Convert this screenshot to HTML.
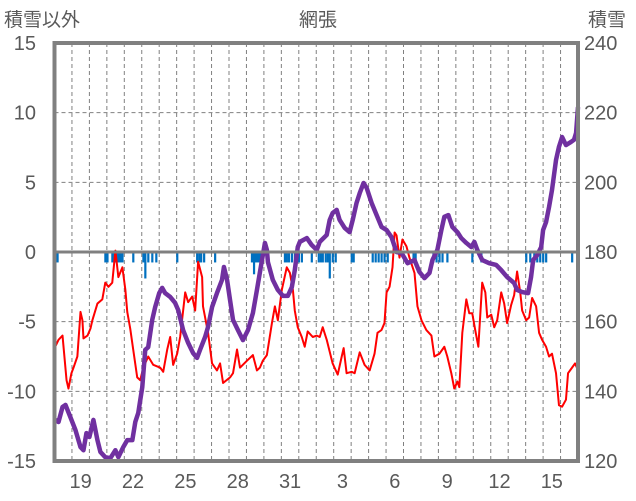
<!DOCTYPE html>
<html><head><meta charset="utf-8"><style>
html,body{margin:0;padding:0;background:#fff;}
svg{display:block;font-family:"Liberation Sans","Noto Sans CJK JP",sans-serif;}
</style></head><body>
<svg id="chart" width="636" height="501">
<g id="grid"></g><g id="bars"></g><g id="lines"></g><g id="frame"></g><g id="labels"></g>
</svg>
<script>
const dayLabels = ["19","22","25","28","31","3","6","9","12","15"];
const dayLabelIndex = [1,4,7,10,13,16,19,22,25,28];
const leftTicks = [15,10,5,0,-5,-10,-15];
const rightTicks = [240,220,200,180,160,140,120];
const redDays = [0,0.23,0.46,0.51,0.69,0.8,0.97,1.09,1.31,1.49,1.6,1.66,1.89,2.06,2.17,2.46,2.74,2.91,3.09,3.31,3.49,3.66,3.89,4.06,4.17,4.34,4.51,4.74,4.91,5.09,5.37,5.66,6.06,6.23,6.46,6.63,6.8,7.03,7.2,7.49,7.66,7.89,8.06,8.23,8.46,8.51,8.8,9.03,9.31,9.49,9.66,10.06,10.23,10.46,10.63,11.03,11.37,11.6,11.77,11.94,12.17,12.46,12.63,12.8,13.03,13.31,13.49,13.66,13.77,13.94,14.17,14.34,14.51,14.8,15.03,15.2,15.37,15.6,15.94,16.23,16.46,16.57,16.74,17.03,17.2,17.49,17.77,18.06,18.34,18.51,18.74,18.91,19.03,19.2,19.37,19.49,19.6,19.77,19.94,20.17,20.34,20.63,20.8,21.03,21.31,21.6,21.77,22.06,22.34,22.51,22.74,22.91,23.09,23.2,23.37,23.6,23.77,23.94,24.11,24.29,24.51,24.69,24.8,25.03,25.2,25.37,25.6,25.77,25.94,26.17,26.34,26.51,26.69,26.8,27.03,27.2,27.37,27.6,27.77,27.94,28.17,28.34,28.51,28.74,28.91,29.09,29.31,29.43,29.66,29.83,29.94];
const redValues = [-6.9,-6.3,-6.0,-6.7,-9.2,-9.8,-8.7,-8.3,-7.5,-4.3,-4.9,-6.2,-6.0,-5.5,-4.9,-3.7,-3.4,-2.2,-2.5,-2.2,0.1,-1.8,-1.1,-2.7,-4.3,-5.5,-7.0,-9.0,-9.2,-8.3,-7.5,-8.1,-8.3,-8.6,-7.0,-6.1,-8.1,-7.3,-6.1,-2.9,-3.6,-3.2,-4.2,-0.7,-1.8,-3.9,-5.8,-8.0,-8.5,-8.0,-9.4,-9.0,-8.7,-7.0,-8.3,-7.8,-7.4,-8.5,-8.3,-7.8,-7.4,-5.1,-3.9,-4.9,-2.7,-1.1,-1.5,-2.7,-4.2,-5.4,-6.1,-6.8,-5.7,-6.1,-6.0,-6.1,-5.4,-6.3,-8.0,-8.8,-7.5,-6.9,-8.7,-8.6,-8.7,-7.2,-8.1,-8.5,-7.3,-5.8,-5.6,-5.1,-2.9,-2.5,-1.1,1.4,1.2,-0.4,0.9,0.4,-0.4,-1.5,-3.9,-4.9,-5.6,-6.0,-7.5,-7.3,-6.8,-7.5,-8.7,-9.8,-9.3,-9.7,-5.8,-3.4,-4.4,-4.4,-5.6,-6.8,-2.2,-2.9,-4.7,-4.5,-5.4,-4.9,-2.9,-3.7,-5.1,-3.8,-3.1,-1.4,-2.9,-4.2,-4.9,-4.7,-3.3,-3.9,-5.8,-6.3,-6.8,-7.5,-7.3,-8.7,-11.0,-11.1,-10.6,-8.7,-8.3,-8.0,-8.3];
const snowDays = [0.06,0.23,0.46,0.63,0.91,1.2,1.49,1.66,1.83,2.0,2.23,2.46,2.63,2.91,3.2,3.49,3.66,3.94,4.17,4.46,4.63,4.8,5.03,5.2,5.37,5.6,5.77,6.0,6.17,6.34,6.63,6.91,7.09,7.37,7.66,7.94,8.17,8.34,8.63,8.8,9.03,9.31,9.6,9.71,9.89,10.06,10.23,10.51,10.8,11.09,11.37,11.6,11.89,12.06,12.17,12.23,12.51,12.8,13.09,13.37,13.6,13.77,13.94,14.06,14.46,14.74,15.03,15.2,15.6,15.77,15.94,16.17,16.34,16.63,16.91,17.09,17.31,17.49,17.71,17.89,18.17,18.46,18.74,19.03,19.31,19.6,19.89,20.23,20.63,20.91,21.2,21.49,21.66,21.94,22.17,22.34,22.57,22.8,23.09,23.31,23.6,23.89,24.06,24.23,24.51,24.91,25.31,25.6,25.94,26.34,26.51,26.8,27.14,27.31,27.43,27.66,27.89,28.0,28.17,28.34,28.51,28.74,28.91,29.09,29.31,29.6,29.77,29.89,30.0];
const snowValues = [131.8,131.2,135.5,136.1,132.6,128.9,124.0,123.1,128.0,126.9,131.8,126.0,122.6,121.1,120.8,123.1,121.1,124.0,126.0,126.0,131.2,133.8,141.2,151.9,152.7,160.5,164.2,168.2,169.7,168.2,167.1,165.4,163.3,157.6,153.9,151.0,149.6,151.9,155.6,158.5,164.2,168.2,172.0,175.7,172.0,166.2,160.5,157.6,154.7,157.6,162.5,169.1,177.7,182.6,180.6,177.1,172.0,169.1,167.4,167.4,169.9,174.8,181.4,182.9,184.0,182.0,180.6,182.9,184.9,189.2,191.2,192.1,189.2,186.9,185.7,189.2,194.1,196.9,199.8,198.4,194.1,190.6,187.2,186.3,184.3,180.0,179.7,176.8,177.7,174.3,172.5,174.0,177.7,180.6,186.3,190.1,190.6,187.2,185.7,184.0,182.6,181.4,182.9,180.6,177.7,176.8,176.3,174.8,172.8,171.1,169.1,168.5,168.2,172.8,177.7,179.1,181.4,186.3,188.6,192.9,197.8,206.4,210.2,213.0,210.7,211.6,212.2,214.2,221.6];
const barDays = [0.17,2.91,3.03,3.31,3.43,3.54,3.66,3.77,3.89,4.51,5.09,5.2,5.37,5.6,5.83,7.03,8.17,8.29,8.4,8.57,9.2,11.31,11.43,11.54,11.66,11.77,11.89,13.2,13.31,13.43,13.6,13.77,13.89,14.0,14.17,14.74,15.14,15.26,15.37,15.54,15.66,15.77,15.94,16.11,17.03,17.14,18.23,18.4,18.57,18.74,18.91,19.09,20.57,20.69,21.71,21.89,22.06,22.23,22.51,23.94,24.46,27.03,27.26,27.49,27.66,27.83,28.0,28.17,29.66];
const barValues = [-0.75,-0.75,-0.75,-0.75,-0.75,-0.75,-0.75,-0.75,-0.75,-0.75,-0.75,-1.9,-0.75,-0.75,-0.75,-0.75,-0.75,-0.75,-0.75,-0.75,-0.75,-0.75,-1.6,-0.75,-0.75,-0.75,-0.75,-0.75,-0.75,-0.75,-0.75,-0.75,-0.75,-0.75,-0.75,-0.75,-0.75,-0.75,-0.75,-0.75,-0.75,-1.9,-0.75,-0.75,-0.75,-0.75,-0.75,-0.75,-0.75,-0.75,-0.75,-0.75,-0.75,-0.75,-0.75,-0.75,-0.75,-0.75,-0.75,-0.75,-0.75,-0.75,-0.75,-0.75,-0.75,-0.75,-0.75,-0.75,-0.75];

const NS="http://www.w3.org/2000/svg";
const L=54.5,R=578,T=43,B=461,NDAYS=30;
const xS=d=>L+d*(R-L)/NDAYS;
const yL=v=>T+(15-v)*(B-T)/30;
const yR=v=>T+(240-v)*(B-T)/120;
function mk(tag,parent,attrs){const e=document.createElementNS(NS,tag);for(const k in attrs)e.setAttribute(k,attrs[k]);parent.appendChild(e);return e;}
const grid=document.getElementById('grid'),bars=document.getElementById('bars'),lines=document.getElementById('lines'),frame=document.getElementById('frame'),labels=document.getElementById('labels');
for(let d=1;d<NDAYS;d++){const g=mk('line',grid,{x1:xS(d),x2:xS(d),y1:T,y2:B,stroke:'#808080','stroke-width':1,'stroke-dasharray':'4,3'});

}
leftTicks.forEach(v=>{if(v===15||v===-15||v===0)return;const g=mk('line',grid,{x1:L,x2:R,y1:yL(v),y2:yL(v),stroke:'#808080','stroke-width':1,'stroke-dasharray':'4,3'});

});
barDays.forEach((d,i)=>{const y0=yL(0),y1=yL(barValues[i]);const b=mk('rect',bars,{x:xS(d)-1,y:y0,width:2.2,height:y1-y0,fill:'#0070C0'});

});
const zl=mk('line',frame,{x1:L,x2:R,y1:yL(0),y2:yL(0),stroke:'#808080','stroke-width':3});


const red=mk('polyline',lines,{points:redDays.map((d,i)=>xS(d)+','+yL(redValues[i])).join(' '),fill:'none',stroke:'#FF0000','stroke-width':2,'stroke-linejoin':'round'});


const pur=mk('polyline',lines,{points:snowDays.map((d,i)=>xS(d)+','+yR(snowValues[i])).join(' '),fill:'none',stroke:'#7030A0','stroke-width':4.5,'stroke-linejoin':'round'});


const fr=mk('rect',frame,{x:L,y:T,width:R-L,height:B-T,fill:'none',stroke:'#808080','stroke-width':4});


leftTicks.forEach(v=>{const t=mk('text',labels,{x:36,y:yL(v)+7,'text-anchor':'end','font-size':20,fill:'#595959'});t.textContent=String(v);

});
rightTicks.forEach(v=>{const t=mk('text',labels,{x:584,y:yR(v)+7,'font-size':20,fill:'#595959'});t.textContent=String(v);

});
dayLabels.forEach((s,i)=>{const t=mk('text',labels,{x:xS(dayLabelIndex[i]+0.5),y:488,'text-anchor':'middle','font-size':20,fill:'#595959'});t.textContent=s;

});
const t1=mk('text',labels,{x:4,y:26,'font-size':19,fill:'#595959'});t1.textContent='積雪以外';


const t2=mk('text',labels,{x:318,y:26,'text-anchor':'middle','font-size':19,fill:'#595959'});t2.textContent='網張';


const t3=mk('text',labels,{x:588,y:26,'font-size':19,fill:'#595959'});t3.textContent='積雪';


</script>
</body></html>
